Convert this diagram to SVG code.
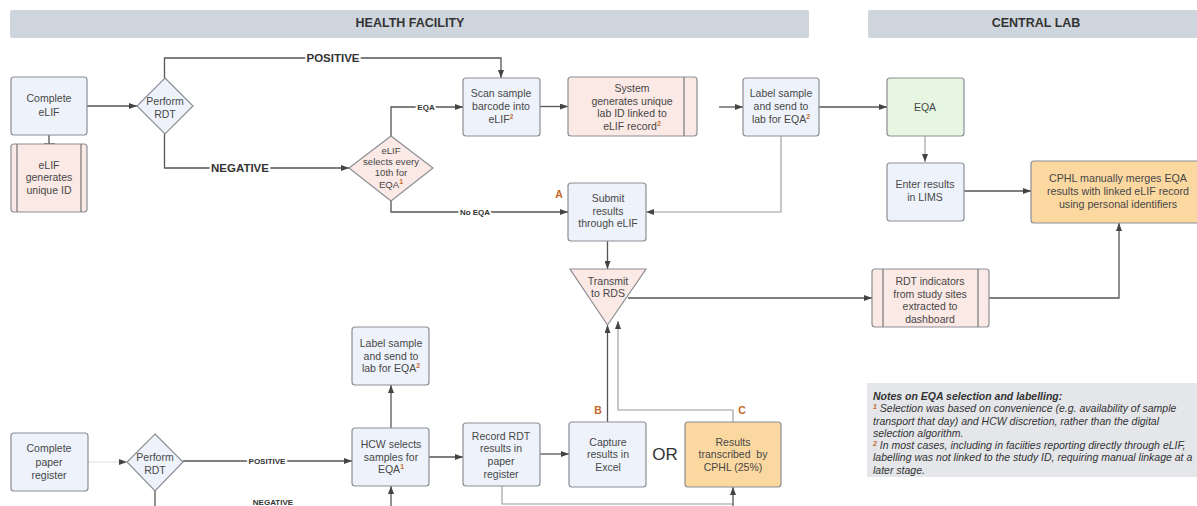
<svg xmlns="http://www.w3.org/2000/svg" width="1197" height="506" viewBox="0 0 1197 506">
<style>
.hdr{fill:#cfd5dd}
.ht{font-family:"Liberation Sans",Arial,sans-serif;font-weight:bold;font-size:12.5px;fill:#333;text-anchor:middle}
.box{stroke:#8b8e93;stroke-width:1.2}
.blue{fill:#eef3fb}
.pink{fill:#fbe9e6}
.green{fill:#e6f6e2}
.orange{fill:#fcd8a1}
.inner{stroke:#777;stroke-width:1.2;fill:none}
.t{font-family:"Liberation Sans",Arial,sans-serif;font-size:10.5px;fill:#474747;text-anchor:middle}
.ts{font-family:"Liberation Sans",Arial,sans-serif;font-size:9.6px;fill:#474747;text-anchor:middle}
.sup{font-size:7px;font-weight:bold;fill:#c4692a}
.ln{fill:none;stroke:#555;stroke-width:1.3}
.lt{fill:none;stroke:#999;stroke-width:1.1}
.lf{fill:none;stroke:#ddd;stroke-width:1.1}
.lbl{font-family:"Liberation Sans",Arial,sans-serif;font-weight:bold;fill:#333;text-anchor:middle;stroke:#fff;stroke-width:4;paint-order:stroke}
.big{font-size:11.5px}
.sm{font-size:8px}
.ab{font-family:"Liberation Sans",Arial,sans-serif;font-weight:bold;font-size:10.5px;fill:#c4692a;text-anchor:middle}
.note{font-family:"Liberation Sans",Arial,sans-serif;font-style:italic;font-size:10.5px;fill:#333}
</style>
<defs>
<marker id="arr" markerUnits="userSpaceOnUse" markerWidth="8" markerHeight="6" refX="8" refY="3" orient="auto">
<path d="M0,0 L8,3 L0,6 z" fill="#444"/>
</marker>
</defs>
<rect width="1197" height="506" fill="#fff"/>

<g id="lane-health-facility">
<rect class="hdr" x="10" y="10" width="799" height="28" rx="2"/>
<text class="ht" x="410" y="27">HEALTH FACILITY</text>
</g>
<g id="lane-central-lab">
<rect class="hdr" x="868" y="10" width="335" height="28" rx="2"/>
<text class="ht" x="1036" y="27">CENTRAL LAB</text>
</g>

<g id="connectors">
<path class="ln" d="M87,106 L137,106" marker-end="url(#arr)"/>
<path class="ln" d="M49,135 L49,144 M44,144 L55,144"/>
<path class="ln" d="M164.5,78 L164.5,58 L501,58 L501,78" marker-end="url(#arr)"/>
<path class="ln" d="M164.5,134 L164.5,168 L349,168" marker-end="url(#arr)"/>
<path class="ln" d="M391,136 L391,107 L463,107" marker-end="url(#arr)"/>
<path class="ln" d="M391,201 L391,212 L568,212" marker-end="url(#arr)"/>
<path class="ln" d="M540,106.5 L568,106.5" marker-end="url(#arr)"/>
<path class="ln" d="M719,107 L743,107" marker-end="url(#arr)"/>
<path class="ln" d="M819,107 L887,107" marker-end="url(#arr)"/>
<path class="lt" d="M925,136 L925,162" marker-end="url(#arr)"/>
<path class="ln" d="M964,191 L1031,191" marker-end="url(#arr)"/>
<path class="lt" d="M781,136 L781,212 L646,212" marker-end="url(#arr)"/>
<path class="ln" d="M607.5,241 L607.5,269" marker-end="url(#arr)"/>
<path class="ln" d="M628,298 L872,298" marker-end="url(#arr)"/>
<path class="ln" d="M989,298 L1119,298 L1119,223" marker-end="url(#arr)"/>
<path class="ln" d="M607.5,422 L607.5,325" marker-end="url(#arr)"/>
<path class="lt" d="M733,422 L733,410 L618,410 L618,321" marker-end="url(#arr)"/>
<path class="lf" d="M88,462 L127,462"/>
<path fill="#444" d="M119,459 L127,462 L119,465 z"/>
<path class="ln" d="M183,461 L352,461" marker-end="url(#arr)"/>
<path class="ln" d="M155,491 L155,506"/>
<path class="ln" d="M391,428 L391,385" marker-end="url(#arr)"/>
<path class="ln" d="M391,506 L391,486" marker-end="url(#arr)"/>
<path class="ln" d="M429,457 L463,457" marker-end="url(#arr)"/>
<path class="ln" d="M540,454 L569,454" marker-end="url(#arr)"/>
<path class="lt" d="M502,486 L502,504 L733,504"/>
<path class="ln" d="M733,506 L733,487" marker-end="url(#arr)"/>
<text class="lbl big" x="333" y="61.5">POSITIVE</text>
<text class="lbl big" x="240" y="172">NEGATIVE</text>
<text class="lbl sm" x="426" y="110">EQA</text>
<text class="lbl sm" x="475" y="215">No EQA</text>
<text class="lbl sm" x="267" y="464">POSITIVE</text>
<text class="lbl sm" x="273" y="504.5">NEGATIVE</text>
<text class="ab" x="559" y="198">A</text>
<text class="ab" x="598" y="414">B</text>
<text class="ab" x="742" y="414">C</text>
</g>

<g id="complete-elif">
<rect class="box blue" x="11" y="77" width="76" height="58" rx="3"/>
<text class="t" x="49" y="102">Complete</text>
<text class="t" x="49" y="116">eLIF</text>
</g>
<g id="elif-generates-id">
<rect class="box pink" x="11" y="144" width="76" height="68" rx="3"/>
<path class="inner" d="M17,144 V212 M81,144 V212"/>
<text class="t" x="49" y="168.5">eLIF</text>
<text class="t" x="49" y="181">generates</text>
<text class="t" x="49" y="193.5">unique ID</text>
</g>
<g id="perform-rdt-1">
<path class="box blue" d="M165,78 L193,106 L165,134 L137,106 z"/>
<text class="t" x="165" y="105">Perform</text>
<text class="t" x="165" y="118">RDT</text>
</g>
<g id="elif-selects">
<path class="box pink" d="M391,136 L433,168 L391,201 L349,168 z"/>
<text class="ts" x="391" y="153.5">eLIF</text>
<text class="ts" x="391" y="164.5">selects every</text>
<text class="ts" x="391" y="175.5">10th for</text>
<text class="ts" x="391" y="187.5">EQA<tspan class="sup" dy="-4">1</tspan></text>
</g>
<g id="scan-sample">
<rect class="box blue" x="463" y="78" width="77" height="58" rx="3"/>
<text class="t" x="501" y="97">Scan sample</text>
<text class="t" x="501" y="110">barcode into</text>
<text class="t" x="501" y="123">eLIF<tspan class="sup" dy="-4">2</tspan></text>
</g>
<g id="system-generates">
<rect class="box pink" x="568" y="77" width="129" height="59" rx="3"/>
<path class="inner" d="M684,77 V136"/>
<text class="t" x="632" y="92">System</text>
<text class="t" x="632" y="105">generates unique</text>
<text class="t" x="632" y="117">lab ID linked to</text>
<text class="t" x="632" y="130">eLIF record<tspan class="sup" dy="-4">2</tspan></text>
</g>
<g id="label-sample-1">
<rect class="box blue" x="743" y="78" width="76" height="58" rx="3"/>
<text class="t" x="781" y="97">Label sample</text>
<text class="t" x="781" y="110">and send to</text>
<text class="t" x="781" y="123">lab for EQA<tspan class="sup" dy="-4">2</tspan></text>
</g>
<g id="eqa">
<rect class="box green" x="887" y="78" width="77" height="58" rx="3"/>
<text class="t" x="925" y="111">EQA</text>
</g>
<g id="enter-results">
<rect class="box blue" x="887" y="163" width="77" height="58" rx="3"/>
<text class="t" x="925" y="188">Enter results</text>
<text class="t" x="925" y="201">in LIMS</text>
</g>
<g id="cphl-merges">
<rect class="box orange" x="1031" y="161" width="172" height="62" rx="3"/>
<text class="t" x="1118" y="182" style="font-size:10.7px">CPHL manually merges EQA</text>
<text class="t" x="1118" y="195" style="font-size:10.7px">results with linked eLIF record</text>
<text class="t" x="1118" y="208" style="font-size:10.7px">using personal identifiers</text>
</g>
<g id="submit-results">
<rect class="box blue" x="568" y="183" width="78" height="58" rx="3"/>
<text class="t" x="608" y="202">Submit</text>
<text class="t" x="608" y="215">results</text>
<text class="t" x="608" y="227">through eLIF</text>
</g>
<g id="transmit-rds">
<path class="box pink" d="M570,269 L646,269 L607.5,325 z"/>
<text class="t" x="608" y="285">Transmit</text>
<text class="t" x="608" y="297">to RDS</text>
</g>
<g id="rdt-indicators">
<rect class="box pink" x="872" y="269" width="117" height="58" rx="3"/>
<path class="inner" d="M883,269 V327 M978,269 V327"/>
<text class="t" x="930" y="285">RDT indicators</text>
<text class="t" x="930" y="297.5">from study sites</text>
<text class="t" x="930" y="310">extracted to</text>
<text class="t" x="930" y="322.5">dashboard</text>
</g>
<g id="complete-paper-register">
<rect class="box blue" x="11" y="433" width="77" height="58" rx="3"/>
<text class="t" x="49" y="452">Complete</text>
<text class="t" x="49" y="465.5">paper</text>
<text class="t" x="49" y="479">register</text>
</g>
<g id="perform-rdt-2">
<path class="box blue" d="M155,434 L183,462 L155,491 L127,462 z"/>
<text class="t" x="155" y="461">Perform</text>
<text class="t" x="155" y="474">RDT</text>
</g>
<g id="label-sample-2">
<rect class="box blue" x="352" y="327" width="77" height="58" rx="3"/>
<text class="t" x="391" y="347">Label sample</text>
<text class="t" x="391" y="360">and send to</text>
<text class="t" x="391" y="372">lab for EQA<tspan class="sup" dy="-4">2</tspan></text>
</g>
<g id="hcw-selects">
<rect class="box blue" x="352" y="428" width="77" height="58" rx="3"/>
<text class="t" x="391" y="448">HCW selects</text>
<text class="t" x="391" y="461">samples for</text>
<text class="t" x="391" y="473">EQA<tspan class="sup" dy="-4">1</tspan></text>
</g>
<g id="record-rdt">
<rect class="box blue" x="463" y="423" width="77" height="63" rx="3"/>
<text class="t" x="501" y="440">Record RDT</text>
<text class="t" x="501" y="452">results in</text>
<text class="t" x="501" y="465">paper</text>
<text class="t" x="501" y="478">register</text>
</g>
<g id="capture-excel">
<rect class="box blue" x="569" y="422" width="77" height="65" rx="3"/>
<text class="t" x="608" y="446">Capture</text>
<text class="t" x="608" y="458">results in</text>
<text class="t" x="608" y="471">Excel</text>
</g>
<g id="or-label">
<text x="665" y="459.5" style="font-family:'Liberation Sans',Arial,sans-serif;font-size:17px;fill:#333;text-anchor:middle">OR</text>
</g>
<g id="results-transcribed">
<rect class="box orange" x="685" y="422" width="96" height="65" rx="3"/>
<text class="t" x="733" y="446">Results</text>
<text class="t" x="733" y="458" xml:space="preserve">transcribed  by</text>
<text class="t" x="733" y="471">CPHL (25%)</text>
</g>
<g id="notes">
<rect x="867" y="383" width="336" height="94" fill="#e4e6ea"/>
<text class="note" x="873" y="399.5" style="font-weight:bold">Notes on EQA selection and labelling:</text>
<text class="note" x="873" y="412"><tspan class="sup" dy="-3">1</tspan><tspan dy="3"> Selection was based on convenience (e.g. availability of sample</tspan></text>
<text class="note" x="873" y="424.5">transport that day) and HCW discretion, rather than the digital</text>
<text class="note" x="873" y="436.5">selection algorithm.</text>
<text class="note" x="873" y="449"><tspan class="sup" dy="-3">2</tspan><tspan dy="3"> In most cases, including in faciities reporting directly through eLIF,</tspan></text>
<text class="note" x="873" y="461">labelling was not linked to the study ID, requiring manual linkage at a</text>
<text class="note" x="873" y="473.5">later stage.</text>
</g>
</svg>
